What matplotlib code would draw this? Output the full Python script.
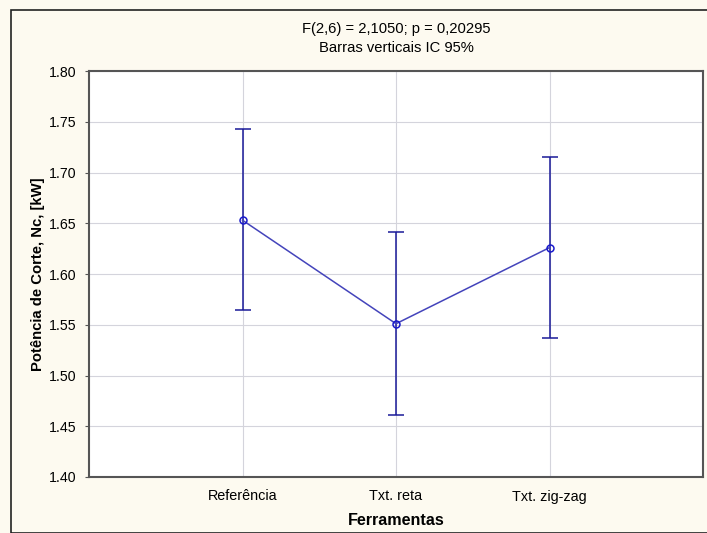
import matplotlib
matplotlib.use("Agg")
import matplotlib.pyplot as plt
from matplotlib.patches import Rectangle

categories = ["Referência", "Txt. reta", "Txt. zig-zag"]
means = [1.653, 1.551, 1.626]
lower = [1.565, 1.461, 1.537]
upper = [1.743, 1.641, 1.715]
yticks = [1.40, 1.45, 1.50, 1.55, 1.60, 1.65, 1.70, 1.75, 1.80]

plt.rcParams['font.family'] = ['Liberation Sans', 'DejaVu Sans']

W, H = 707, 533
fig = plt.figure(figsize=(W/100, H/100), dpi=100)
fig.patch.set_facecolor('#FDFAF0')
fig.patches.append(Rectangle((11/W, 0), 1.2, 1 - 10/H, transform=fig.transFigure,
                             fill=False, edgecolor='#222222', linewidth=1.2, zorder=0))

ax = fig.add_axes([89/W, 1 - 477/H, (703-89)/W, (477-71)/H])
ax.set_facecolor('white')
x = list(range(1, len(categories) + 1))
yerr = [[m - l for m, l in zip(means, lower)], [u - m for m, u in zip(means, upper)]]
ax.errorbar(x, means, yerr=yerr, fmt='none', ecolor='#1a1a99', elinewidth=1.1,
            capsize=5.8, capthick=1.1, zorder=3)
ax.plot(x, means, color='#4444bb', linewidth=1.1, zorder=4)
ax.plot(x, means, linestyle='none', marker='o', markersize=5, markerfacecolor='none',
        markeredgecolor='#1a1acc', markeredgewidth=1.1, zorder=5)

ax.set_xlim(0, 4)
ax.set_ylim(1.40, 1.80)
ax.set_xticks(x)
ax.set_xticklabels(categories, fontsize=10.4)
ax.set_yticks(yticks)
ax.set_yticklabels([f"{v:.2f}" for v in yticks], fontsize=10.2)
ax.tick_params(axis='y', length=3, width=0.8, color='#555555', pad=6)
ax.tick_params(axis='x', length=0, pad=9)
ax.grid(True, color='#d4d4dc', linewidth=0.8, zorder=0)
for s in ax.spines.values():
    s.set_color('#555555')
    s.set_linewidth(1.5)

ax.set_xlabel("Ferramentas", fontsize=11.6, fontweight='bold', labelpad=7)
ax.set_ylabel("Potência de Corte, Nc, [kW]", fontsize=10.7, fontweight='bold', labelpad=3)

fig.text(396/W, 1 - 29/H, "F(2,6) = 2,1050; p = 0,20295", ha='center', va='center', fontsize=10.6)
fig.text(396/W, 1 - 48/H, "Barras verticais IC 95%", ha='center', va='center', fontsize=10.6)

fig.savefig("out.png", dpi=100, facecolor=fig.get_facecolor())
